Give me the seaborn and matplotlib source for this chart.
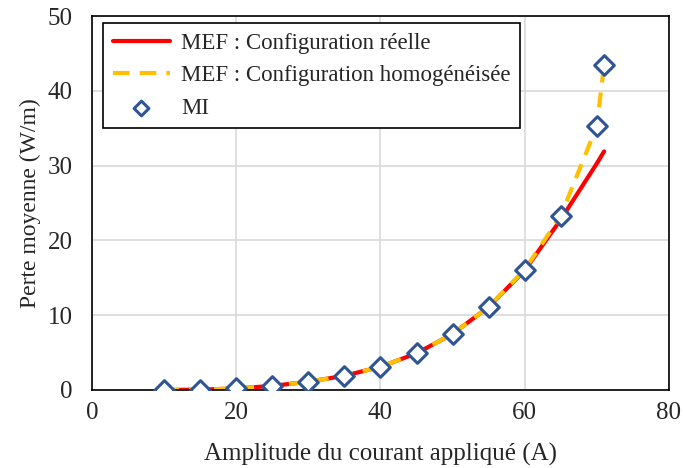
import matplotlib
matplotlib.use('Agg')

import pandas as pd
import matplotlib.pyplot as plt
import seaborn as sns

# Courant appliqué (A) et pertes moyennes (W/m)
courant = [10, 15, 20, 25, 30, 35, 40, 45, 50, 55, 60, 65, 70, 71]
mef_reelle = [0.0, 0.05, 0.2, 0.55, 1.1, 1.9, 3.1, 4.9, 7.5, 11.1, 16.0, 22.8, 30.3, 31.9]
mef_homog = [0.0, 0.05, 0.2, 0.55, 1.1, 1.9, 3.1, 4.9, 7.5, 11.1, 16.1, 23.3, 35.3, 43.5]
mi = [0.0, 0.05, 0.2, 0.55, 1.1, 1.9, 3.1, 4.9, 7.5, 11.1, 16.1, 23.3, 35.3, 43.5]

data = pd.DataFrame({"I": courant, "reelle": mef_reelle, "homog": mef_homog, "MI": mi})

sns.set_style("white")
plt.rcParams['font.family'] = ['Liberation Serif', 'DejaVu Serif']

fig = plt.figure(figsize=(6.83, 4.68), dpi=100)
ax = fig.add_axes([0.1347, 0.1667, 0.8448, 0.7991])

sns.lineplot(data=data, x="I", y="reelle", ax=ax, color="#ff0000", linewidth=3,
             label="MEF : Configuration réelle")
sns.lineplot(data=data, x="I", y="homog", ax=ax, color="#ffc000", linewidth=3,
             dashes=False, label="MEF : Configuration homogénéisée")
ax.lines[-1].set_dashes([3.6, 2.4])
sns.scatterplot(data=data, x="I", y="MI", ax=ax, marker="D", s=100,
                facecolor="white", edgecolor="#2f5597", linewidth=2.2, label="MI", zorder=5)

ax.set_xlim(0, 80)
ax.set_ylim(0, 50)
ax.set_xticks([0, 20, 40, 60, 80])
ax.set_yticks([0, 10, 20, 30, 40, 50])
ax.grid(True, color="#d9d9d9", linewidth=1.2)
ax.set_axisbelow(True)
for s in ax.spines.values():
    s.set_color("black")
    s.set_linewidth(1.2)
ax.tick_params(axis="x", labelsize=18, length=0, pad=9)
ax.tick_params(axis="y", labelsize=18, length=0, pad=14)
ax.set_xlabel("Amplitude du courant appliqué (A)", fontsize=18, labelpad=13)
ax.set_ylabel("Perte moyenne (W/m)", fontsize=17, labelpad=5)

leg = ax.legend(loc="upper left", bbox_to_anchor=(0.0, 1.011), fontsize=16.5,
                frameon=True, fancybox=False, edgecolor="black", framealpha=1,
                borderpad=0.4, labelspacing=0.5, handlelength=2.5, handletextpad=0.5,
                markerscale=0.75)
leg.get_frame().set_linewidth(1.2)
leg.legend_handles[1].set_dashes([4, 2.4])

fig.savefig("out.png", dpi=100)
